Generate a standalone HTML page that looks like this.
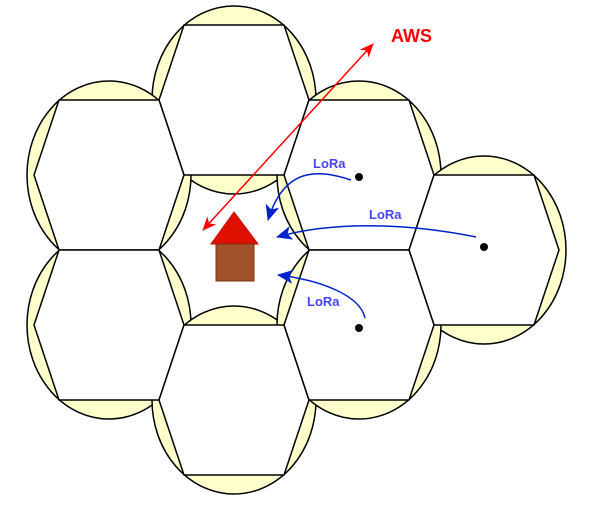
<!DOCTYPE html>
<html><head><style>html,body{margin:0;padding:0;background:#fff;}svg{display:block}</style></head>
<body>
<svg width="592" height="514" viewBox="0 0 592 514" xmlns="http://www.w3.org/2000/svg">
<defs>
<marker id="rh" markerWidth="14" markerHeight="12" refX="13" refY="6" orient="auto" markerUnits="userSpaceOnUse"><path d="M0,0 L14,6 L0,12 L4,6 Z" fill="#f00"/></marker>
<marker id="rt" markerWidth="14" markerHeight="12" refX="1" refY="6" orient="auto" markerUnits="userSpaceOnUse"><path d="M14,0 L0,6 L14,12 L10,6 Z" fill="#f00"/></marker>
<marker id="bh" markerWidth="16" markerHeight="14" refX="15" refY="7" orient="auto" markerUnits="userSpaceOnUse"><path d="M0,0 L16,7 L0,14 L4,7 Z" fill="#0022cc"/></marker>
</defs>
<g fill="#ffffcc" stroke="#000" stroke-width="1.5">
<ellipse cx="234" cy="100" rx="82" ry="94"/>
<ellipse cx="109" cy="175" rx="82" ry="94"/>
<ellipse cx="359" cy="175" rx="82" ry="94"/>
<ellipse cx="484" cy="250" rx="82" ry="94"/>
<ellipse cx="109" cy="325" rx="82" ry="94"/>
<ellipse cx="234" cy="400" rx="82" ry="94"/>
<ellipse cx="359" cy="325" rx="82" ry="94"/>
</g>
<g fill="#fff" stroke="#000" stroke-width="1.5">
<polygon points="184,25 284,25 309,100 284,175 184,175 159,100"/>
<polygon points="59,100 159,100 184,175 159,250 59,250 34,175"/>
<polygon points="309,100 409,100 434,175 409,250 309,250 284,175"/>
<polygon points="434,175 534,175 559,250 534,325 434,325 409,250"/>
<polygon points="59,250 159,250 184,325 159,400 59,400 34,325"/>
<polygon points="184,325 284,325 309,400 284,475 184,475 159,400"/>
<polygon points="309,250 409,250 434,325 409,400 309,400 284,325"/>
</g>
<circle cx="359" cy="177" r="4"/>
<circle cx="484" cy="247" r="4"/>
<circle cx="359" cy="328" r="4"/>
<polygon points="234,212 211,244 258,244" fill="#e01000" stroke="#c01000"/>
<rect x="216" y="244" width="38" height="37" fill="#a0522d" stroke="#803010"/>
<line x1="203" y1="230" x2="373" y2="44" stroke="#f00" stroke-width="1.5" marker-end="url(#rh)" marker-start="url(#rt)"/>
<text x="391" y="42" font-family="Liberation Sans, sans-serif" font-weight="bold" font-size="18" fill="#f00">AWS</text>
<g fill="none" stroke="#0022cc" stroke-width="1.5">
<path d="M351,180 C320,170 285,165 268,220" marker-end="url(#bh)"/>
<path d="M476,237 C400,222 330,222 277,237" marker-end="url(#bh)"/>
<path d="M365,318 C360,295 320,280 278,275" marker-end="url(#bh)"/>
</g>
<g font-family="Liberation Sans, sans-serif" font-weight="bold" font-size="13" fill="#4444ff">
<text x="313" y="168">LoRa</text>
<text x="369" y="219">LoRa</text>
<text x="307" y="306">LoRa</text>
</g>
</svg>
</body></html>
